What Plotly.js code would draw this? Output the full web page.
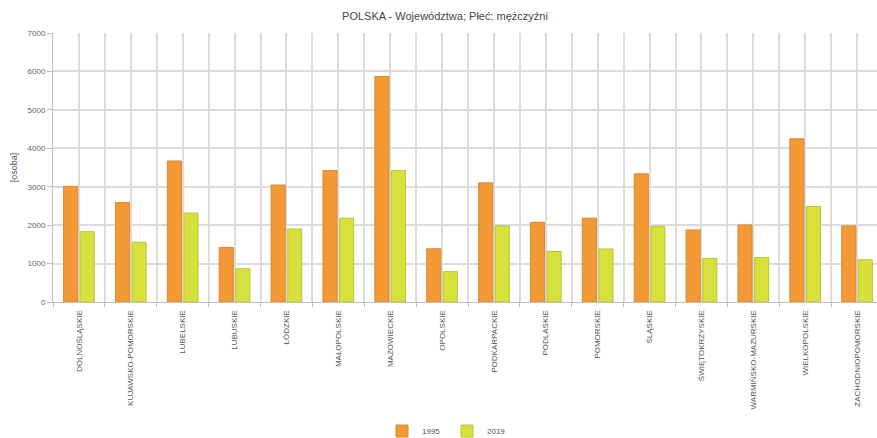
<!DOCTYPE html>
<html>
<head>
<meta charset="utf-8">
<script src="https://cdn.plot.ly/plotly-3.0.1.min.js"></script>
<style>
  html, body { margin: 0; padding: 0; overflow: hidden; background: #fff; }
  #chart { width: 890px; height: 438px; }
</style>
</head>
<body>
<div id="chart"></div>
<script>
const categories = [
  "DOLNOŚLĄSKIE", "KUJAWSKO-POMORSKIE", "LUBELSKIE", "LUBUSKIE", "ŁÓDZKIE",
  "MAŁOPOLSKIE", "MAZOWIECKIE", "OPOLSKIE", "PODKARPACKIE", "PODLASKIE",
  "POMORSKIE", "ŚLĄSKIE", "ŚWIĘTOKRZYSKIE", "WARMIŃSKO-MAZURSKIE",
  "WIELKOPOLSKIE", "ZACHODNIOPOMORSKIE"
];
const values1995 = [3010, 2590, 3670, 1420, 3045, 3420, 5865, 1385, 3100, 2075, 2180, 3335, 1875, 2005, 4245, 1980];
const values2019 = [1830, 1555, 2315, 865, 1900, 2180, 3420, 790, 1980, 1315, 1380, 1970, 1135, 1160, 2485, 1100];
const seriesNames = ["1995", "2019"];
const yTicks = [0, 1000, 2000, 3000, 4000, 5000, 6000, 7000];

const gridColor = "#dcdcdc";
const fontFam = "Liberation Sans, Arial, sans-serif";

const traces = [
  {
    type: "bar", name: seriesNames[0], x: categories, y: values1995,
    marker: { color: "#F39A36", line: { color: "#D98A30", width: 1 } },
    hoverinfo: "x+y+name"
  },
  {
    type: "bar", name: seriesNames[1], x: categories, y: values2019,
    marker: { color: "#D8E03C", line: { color: "#BCC43A", width: 1 } },
    hoverinfo: "x+y+name"
  },
  {
    type: "scatter", mode: "markers", x: categories, y: categories.map(() => null),
    xaxis: "x2", yaxis: "y", showlegend: false, hoverinfo: "skip"
  }
];

const layout = {
  width: 890,
  height: 438,
  margin: { l: 53, r: 7, t: 33, b: 136 },
  paper_bgcolor: "#ffffff",
  plot_bgcolor: "#ffffff",
  font: { family: fontFam, color: "#555", size: 8 },
  title: {
    text: "POLSKA - Województwa; Płeć: mężczyźni",
    font: { family: fontFam, size: 11, color: "#454545" },
    xref: "container", x: 0.5, xanchor: "center",
    yref: "container", y: 1 - 16 / 438, yanchor: "middle"
  },
  barmode: "group",
  bargap: 0.36,
  bargroupgap: 0.15,
  xaxis: {
    type: "category",
    categoryorder: "array", categoryarray: categories,
    range: [-0.5, categories.length - 0.5],
    tickson: "boundaries",
    ticks: "outside", ticklen: 4, tickcolor: "#c0c0c0", tickwidth: 1,
    ticklabelstandoff: 4,
    showgrid: true, gridcolor: gridColor, gridwidth: 2,
    showline: true, linecolor: "#c0c0c0", linewidth: 1,
    tickangle: -90,
    tickfont: { family: fontFam, size: 8, color: "#555" },
    fixedrange: true
  },
  xaxis2: {
    type: "category",
    overlaying: "x",
    categoryorder: "array", categoryarray: categories,
    range: [-0.5, categories.length - 0.5],
    showgrid: true, gridcolor: gridColor, gridwidth: 2,
    showticklabels: false, ticks: "", showline: false, zeroline: false,
    fixedrange: true
  },
  yaxis: {
    range: [0, 7000],
    tickvals: yTicks,
    ticktext: yTicks.map(String),
    ticks: "outside", ticklen: 5, tickcolor: "#c0c0c0",
    showgrid: true, gridcolor: gridColor, gridwidth: 2,
    showline: true, linecolor: "#c0c0c0", linewidth: 1,
    zeroline: false,
    tickfont: { family: fontFam, size: 8, color: "#666" },
    title: { text: "[osoba]", font: { family: fontFam, size: 9, color: "#555" }, standoff: 8 },
    fixedrange: true
  },
  legend: {
    orientation: "h",
    xref: "container", x: 447 / 890, xanchor: "center",
    yref: "container", y: 1 - 431 / 438, yanchor: "middle",
    font: { family: fontFam, size: 8, color: "#555" },
    itemwidth: 30,
    entrywidth: 20, entrywidthmode: "pixels",
    traceorder: "normal"
  },
  showlegend: true
};

Plotly.newPlot("chart", traces, layout, { displayModeBar: false, staticPlot: true });
</script>
</body>
</html>
